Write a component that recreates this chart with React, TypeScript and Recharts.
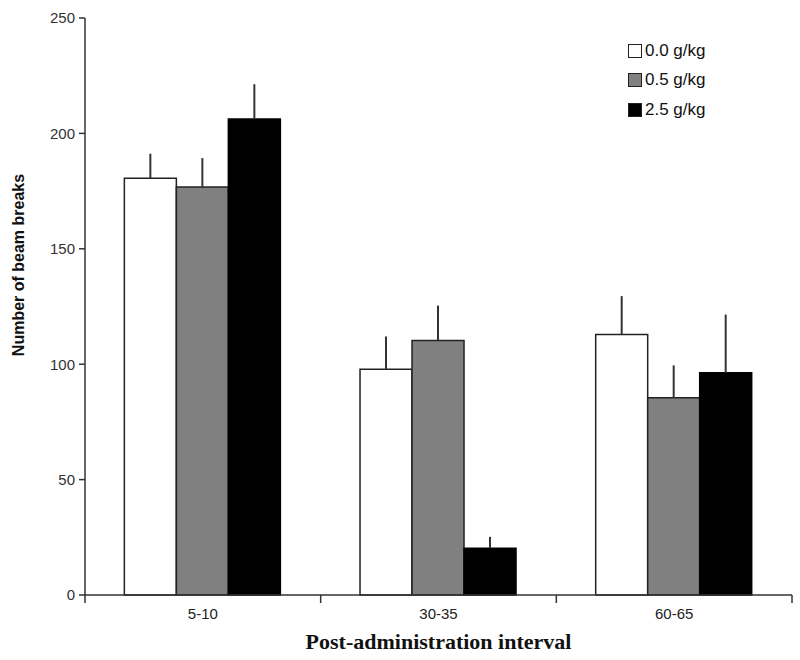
import { BarChart, Bar, XAxis, YAxis, ErrorBar, Legend } from "recharts";

const intervals = ["5-10", "30-35", "60-65"];
const dose00 = [180.6, 97.8, 112.9];
const dose05 = [176.8, 110.3, 85.5];
const dose25 = [206.2, 20.3, 96.3];
const sem00 = [10.6, 14.2, 16.6];
const sem05 = [12.5, 15.1, 14.0];
const sem25 = [15.1, 4.9, 25.2];
const yTicks = [0, 50, 100, 150, 200, 250];

const seriesInfo = [
  { key: "d00", name: "0.0 g/kg", fill: "#ffffff" },
  { key: "d05", name: "0.5 g/kg", fill: "#808080" },
  { key: "d25", name: "2.5 g/kg", fill: "#000000" },
];

const data = intervals.map((name, i) => ({
  name,
  d00: dose00[i],
  d05: dose05[i],
  d25: dose25[i],
  e00: [0, sem00[i]],
  e05: [0, sem05[i]],
  e25: [0, sem25[i]],
}));

const sans = "'Liberation Sans', Arial, sans-serif";
const serif = "'Liberation Serif', 'Times New Roman', serif";
const ink = "#333333";

const XTick = (props: any) => {
  const { x, y, payload, index } = props;
  const half = payload?.offset ?? 0;
  const last = index === intervals.length - 1;
  return (
    <g>
      <line x1={x - half} x2={x - half} y1={y} y2={y + 8} stroke={ink} strokeWidth={1.5} />
      {last && <line x1={x + half} x2={x + half} y1={y} y2={y + 8} stroke={ink} strokeWidth={1.5} />}
      <text x={x} y={y + 24} textAnchor="middle" fontFamily={sans} fontSize={15} fill="#222">
        {payload.value}
      </text>
    </g>
  );
};

const LegendBox = () => (
  <div style={{ fontFamily: sans, fontSize: 17, color: "#111" }}>
    {seriesInfo.map((s) => (
      <div key={s.key} style={{ display: "flex", alignItems: "center", height: 29.5 }}>
        <span
          style={{
            display: "inline-block",
            width: 12,
            height: 12,
            background: s.fill,
            border: "1.5px solid #222",
            marginRight: 3,
          }}
        />
        <span>{s.name}</span>
      </div>
    ))}
  </div>
);

export default function App() {
  return (
    <div style={{ position: "absolute", left: 0, top: 0, background: "#fff" }}>
      <BarChart
        width={800}
        height={660}
        data={data}
        margin={{ top: 18, right: 8, left: 0, bottom: 0 }}
        barCategoryGap="16.7%"
        barGap={0}
      >
        <XAxis
          dataKey="name"
          height={65}
          tickLine={false}
          tickSize={0}
          tickMargin={0}
          axisLine={{ stroke: ink, strokeWidth: 1.5 }}
          tick={<XTick />}
          interval={0}
          label={{
            content: ({ viewBox }: any) => (
              <text
                x={viewBox.x + viewBox.width / 2}
                y={viewBox.y + 54}
                textAnchor="middle"
                fontFamily={serif}
                fontWeight="bold"
                fontSize={22}
                fill="#111"
              >
                Post-administration interval
              </text>
            ),
          }}
        />
        <YAxis
          width={85}
          domain={[0, 250]}
          ticks={yTicks}
          interval={0}
          tickSize={6}
          tickMargin={4}
          axisLine={{ stroke: ink, strokeWidth: 1.5 }}
          tickLine={{ stroke: ink, strokeWidth: 1.5 }}
          tick={{ fontFamily: sans, fontSize: 15, fill: "#333" }}
          label={{
            content: () => (
              <text
                transform="translate(24, 265) rotate(-90)"
                textAnchor="middle"
                fontFamily={sans}
                fontWeight="bold"
                fontSize={16}
                fill="#111"
              >
                Number of beam breaks
              </text>
            ),
          }}
        />
        <Legend
          layout="vertical"
          align="center"
          verticalAlign="middle"
          wrapperStyle={{ left: 628, top: 36, width: 130 }}
          content={<LegendBox />}
        />
        <Bar dataKey="d00" name="0.0 g/kg" fill="#ffffff" stroke="#222" strokeWidth={1.5} isAnimationActive={false}>
          <ErrorBar dataKey="e00" direction="y" width={0} stroke={ink} strokeWidth={2} />
        </Bar>
        <Bar dataKey="d05" name="0.5 g/kg" fill="#808080" stroke="#222" strokeWidth={1.5} isAnimationActive={false}>
          <ErrorBar dataKey="e05" direction="y" width={0} stroke={ink} strokeWidth={2} />
        </Bar>
        <Bar dataKey="d25" name="2.5 g/kg" fill="#000000" stroke="#000" strokeWidth={1.5} isAnimationActive={false}>
          <ErrorBar dataKey="e25" direction="y" width={0} stroke={ink} strokeWidth={2} />
        </Bar>
      </BarChart>
    </div>
  );
}
